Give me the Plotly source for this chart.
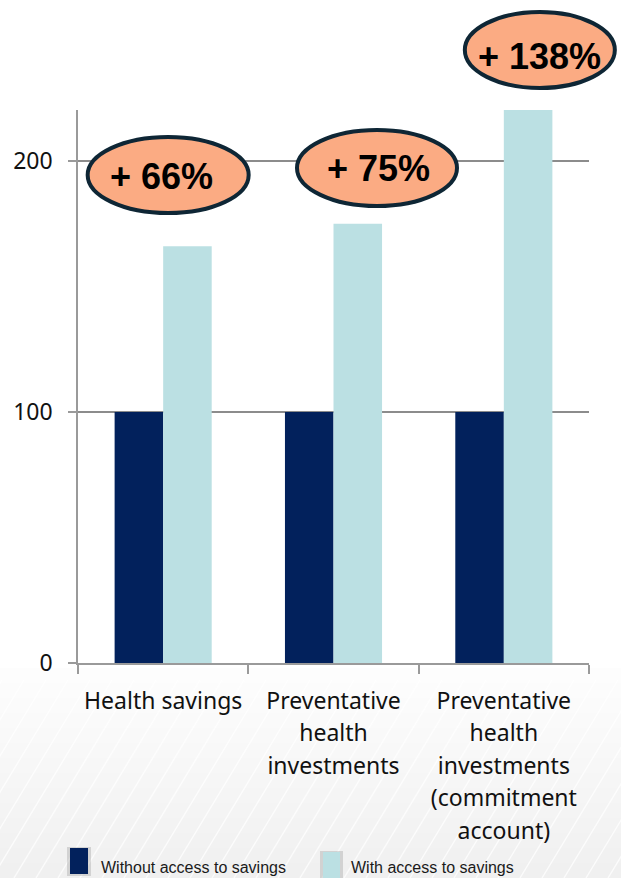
import plotly.graph_objects as go

# ---- data -------------------------------------------------------------
categories = [
    "Health savings",
    "Preventative<br>health<br>investments",
    "Preventative<br>health<br>investments<br>(commitment<br>account)",
]
series_names = ["Without access to savings", "With access to savings"]
without_access = [100, 100, 100]
with_access = [166, 175, 238]
y_ticks = [0, 100, 200]

# ---- styles -----------------------------------------------------------
DARK = "#02215C"
LIGHT = "#BBE0E3"
BADGE_FILL = "#FBAB83"
BADGE_LINE = "#0E2635"
AXIS_GREY = "#9a9a9a"
GRID_GREY = "#8c8c8c"
LABEL_FONT = "Noto Sans, Open Sans, sans-serif"

W, H = 621, 878
M_L, M_R, M_T, M_B = 78, 32, 110, 215
Y_MAX = 220.3

plot_w = W - M_L - M_R
plot_h = H - M_T - M_B


def paper_x(px):
    return (px - M_L) / plot_w


def paper_y(py):
    return (H - M_B - py) / plot_h


def cat_center_px(i):
    return M_L + (i + 0.5) * plot_w / len(categories)


def data_to_py(v):
    return H - M_B - v / Y_MAX * plot_h


# category labels: 23px glyphs on a 25px line box for looser line spacing
tick_text = ["<br>".join(f'<span style="font-size:23px">{ln}</span>' for ln in c.split("<br>"))
             for c in categories]

fig = go.Figure()
fig.add_bar(x=categories, y=without_access, name=series_names[0],
            marker=dict(color=DARK, line=dict(width=0)), showlegend=False)
fig.add_bar(x=categories, y=with_access, name=series_names[1],
            marker=dict(color=LIGHT, line=dict(width=0)), showlegend=False)

shapes = []
annotations = []

# soft textured backdrop under the category labels
n_bands = 14
top_py, bot_py = 668, H
for k in range(n_bands):
    y0 = top_py + (bot_py - top_py) * k / n_bands
    y1 = top_py + (bot_py - top_py) * (k + 1) / n_bands
    g = int(255 - 15 * (k + 1) / n_bands)
    shapes.append(dict(type="rect", xref="paper", yref="paper",
                       x0=paper_x(0), x1=paper_x(W), y0=paper_y(y1), y1=paper_y(y0),
                       fillcolor=f"rgb({g},{g},{g})", line=dict(width=0), layer="below"))
for sx in range(-140, W + 20, 22):
    shapes.append(dict(type="line", xref="paper", yref="paper",
                       x0=paper_x(sx), y0=paper_y(H), x1=paper_x(sx + 120), y1=paper_y(680),
                       line=dict(color="rgba(255,255,255,0.75)", width=1.4), layer="below"))

# percentage-increase badges
badge_dx = [5, 43.5, 36]          # px shift from category centre
badge_y = [194.4, 197.2, 244.2]   # vertical centre in data units
badge_w = [161, 160, 150]
badge_h = [76, 76, 76]
text_dx = [-2, 44.5, 36]
text_y = [194.0, 196.8, 241.8]

for i in range(len(categories)):
    pct = round((with_access[i] / without_access[i] - 1) * 100)
    cx = cat_center_px(i) + badge_dx[i]
    cy = data_to_py(badge_y[i])
    shapes.append(dict(type="circle", xref="paper", yref="paper",
                       x0=paper_x(cx - badge_w[i] / 2), x1=paper_x(cx + badge_w[i] / 2),
                       y0=paper_y(cy + badge_h[i] / 2), y1=paper_y(cy - badge_h[i] / 2),
                       fillcolor=BADGE_FILL, line=dict(color=BADGE_LINE, width=4),
                       layer="above"))
    tx = cat_center_px(i) + text_dx[i]
    ty = data_to_py(text_y[i])
    annotations.append(dict(xref="paper", yref="paper", x=paper_x(tx), y=paper_y(ty),
                            text=f"<b>+ {pct}%</b>", showarrow=False,
                            xanchor="center", yanchor="middle",
                            font=dict(family="Liberation Sans, Arial", size=36, color="#000000")))

# legend: tall swatches with a soft shadow
legend_items = [
    (series_names[0], DARK, 70, 88, 848, 874, 99),
    (series_names[1], LIGHT, 323, 340, 852, 878, 349),
]
for name, col, x0, x1, y0, y1, tx in legend_items:
    shapes.append(dict(type="rect", xref="paper", yref="paper",
                       x0=paper_x(x0 - 3), x1=paper_x(x1 + 3), y0=paper_y(y1 + 2), y1=paper_y(y0 - 1),
                       fillcolor="rgba(120,120,120,0.25)", line=dict(width=0), layer="above"))
    shapes.append(dict(type="rect", xref="paper", yref="paper",
                       x0=paper_x(x0), x1=paper_x(x1), y0=paper_y(y1), y1=paper_y(y0),
                       fillcolor=col, line=dict(width=0), layer="above"))
    annotations.append(dict(xref="paper", yref="paper", x=paper_x(tx), y=paper_y(867),
                            text=name, showarrow=False, xanchor="left", yanchor="middle",
                            font=dict(family="Liberation Sans, Arial", size=16, color="#1a1a1a")))

fig.update_layout(
    width=W, height=H, autosize=False,
    margin=dict(l=M_L, r=M_R, t=M_T, b=M_B, pad=0),
    paper_bgcolor="white", plot_bgcolor="white",
    barmode="group", bargap=0.43, bargroupgap=0,
    shapes=shapes, annotations=annotations,
    showlegend=False,
    font=dict(family=LABEL_FONT, size=23, color="#111111"),
)
fig.update_xaxes(
    type="category", showline=True, linecolor=AXIS_GREY, linewidth=1.5,
    tickmode="array", tickvals=categories, ticktext=tick_text,
    ticks="outside", tickson="boundaries", ticklen=9, tickcolor=AXIS_GREY, tickwidth=1.5,
    showgrid=False, zeroline=False, ticklabelstandoff=14,
    tickfont=dict(family=LABEL_FONT, size=25, color="#111111"),
)
fig.update_yaxes(
    range=[0, Y_MAX], tickmode="array", tickvals=y_ticks,
    showline=True, linecolor=AXIS_GREY, linewidth=1.5,
    ticks="outside", ticklen=8, tickcolor=AXIS_GREY, tickwidth=1.5,
    showgrid=True, gridcolor=GRID_GREY, gridwidth=1.5, zeroline=False,
    ticklabelstandoff=11,
    tickfont=dict(family=LABEL_FONT, size=23, color="#111111"),
)

fig.write_html("out.html")
